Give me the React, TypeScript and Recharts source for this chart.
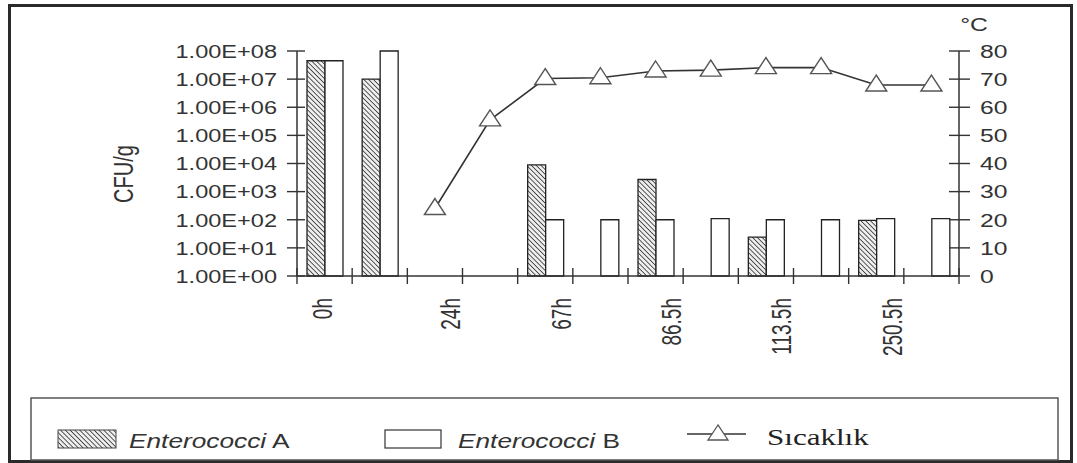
import React from 'react';
import { ComposedChart, Bar, Line, XAxis, YAxis } from 'recharts';

const timeLabels = ['0h', '', '24h', '', '67h', '', '86.5h', '', '113.5h', '', '250.5h', ''];
const enterococciA = [4.5e7, 1e7, null, null, 8.9e3, null, 2.7e3, null, 24, null, 95, null];
const enterococciB = [4.5e7, 1e8, null, null, 100, 100, 100, 110, 100, 100, 110, 110];
const sicaklik = [null, null, 24, 55.5, 70.2, 70.5, 72.9, 73.2, 74.1, 74.1, 67.9, 67.9];
const cfuTicks = [1, 10, 100, 1e3, 1e4, 1e5, 1e6, 1e7, 1e8];
const tempTicks = [0, 10, 20, 30, 40, 50, 60, 70, 80];

const data = timeLabels.map((t, i) => ({
  time: t,
  A: enterococciA[i],
  B: enterococciB[i],
  T: sicaklik[i],
}));

const W = 1077;
const H = 463;
const PLOT_L = 297;
const PLOT_R = 959;
const PLOT_T = 51;
const PLOT_B = 276;
const BAND = (PLOT_R - PLOT_L) / timeLabels.length;
const INK = '#333';
const SANS = '"Liberation Sans", Arial, sans-serif';
const SERIF = '"Liberation Serif", "Times New Roman", serif';

const fmtE = (v: number) => '1.00E+' + String(Math.round(Math.log10(v))).padStart(2, '0');

const LeftTick = (props: any) => {
  const { y, payload } = props;
  return (
    <g>
      <line x1={PLOT_L - 10} x2={PLOT_L + 8} y1={y} y2={y} stroke={INK} strokeWidth={1.4} />
      <g transform={`translate(${PLOT_L - 20},${y}) scale(1.24,1)`}>
        <text x={0} y={0} dy="0.36em" textAnchor="end" fontFamily={SANS} fontSize={19} fill={INK}>
          {fmtE(payload.value)}
        </text>
      </g>
    </g>
  );
};

const RightTick = (props: any) => {
  const { y, payload } = props;
  return (
    <g>
      <line x1={PLOT_R - 10} x2={PLOT_R + 11} y1={y} y2={y} stroke={INK} strokeWidth={1.4} />
      <g transform={`translate(${PLOT_R + 21},${y}) scale(1.3,1)`}>
        <text x={0} y={0} dy="0.36em" textAnchor="start" fontFamily={SANS} fontSize={19} fill={INK}>
          {payload.value}
        </text>
      </g>
    </g>
  );
};

const XTick = (props: any) => {
  const { x, payload, index } = props;
  const left = x - BAND / 2;
  const isLast = index === timeLabels.length - 1;
  const dx = index === 0 ? -3 : 15;
  const label = payload.value as string;
  return (
    <g>
      <line x1={left} x2={left} y1={PLOT_B - 8} y2={PLOT_B + 8} stroke={INK} strokeWidth={1.4} />
      {isLast && (
        <line x1={left + BAND} x2={left + BAND} y1={PLOT_B - 8} y2={PLOT_B + 8} stroke={INK} strokeWidth={1.4} />
      )}
      {label && (
        <g transform={`translate(${x + dx},${PLOT_B + 22}) scale(1.5,1) rotate(-90)`}>
          <text x={0} y={0} dy="0.36em" textAnchor="end" fontFamily={SANS} fontSize={19} fill={INK}>
            {label}
          </text>
        </g>
      )}
    </g>
  );
};

const TriDot = (props: any) => {
  const { cx, cy, index } = props;
  if (cx == null || cy == null || isNaN(cy)) return <g key={`d${index}`} />;
  const pts = `${cx},${cy - 10} ${cx - 10.5},${cy + 6} ${cx + 10.5},${cy + 6}`;
  return <polygon key={`d${index}`} points={pts} fill="#fff" stroke="#555" strokeWidth={1.4} />;
};

const Hatch = ({ id }: { id: string }) => (
  <pattern id={id} patternUnits="userSpaceOnUse" width={3.4} height={3.4} patternTransform="rotate(-45)">
    <rect x={0} y={0} width={3.4} height={3.4} fill="#eeeeee" />
    <line x1={0} y1={0} x2={0} y2={3.4} stroke="#333" strokeWidth={1.6} />
  </pattern>
);

export default function App() {
  return (
    <div style={{ position: 'absolute', left: 0, top: 0, width: W, height: H, background: '#fff' }}>
      <ComposedChart
        width={W}
        height={H}
        data={data}
        margin={{ top: PLOT_T, right: 0, bottom: 0, left: 0 }}
        barGap={0}
        style={{ position: 'absolute', left: 0, top: 0 }}
      >
        <defs>
          <Hatch id="hatchA" />
        </defs>
        <XAxis
          dataKey="time"
          type="category"
          interval={0}
          height={H - PLOT_B}
          axisLine={{ stroke: INK, strokeWidth: 1.5 }}
          tickLine={false}
          tick={(p: any) => <XTick {...p} />}
        />
        <YAxis
          yAxisId="left"
          orientation="left"
          width={PLOT_L}
          scale="log"
          type="number"
          domain={[1, 1e8]}
          ticks={cfuTicks}
          interval={0}
          axisLine={{ stroke: INK, strokeWidth: 1.5 }}
          tickLine={false}
          tick={(p: any) => <LeftTick {...p} />}
        />
        <YAxis
          yAxisId="right"
          orientation="right"
          width={W - PLOT_R}
          type="number"
          domain={[0, 80]}
          ticks={tempTicks}
          interval={0}
          axisLine={{ stroke: INK, strokeWidth: 1.5 }}
          tickLine={false}
          tick={(p: any) => <RightTick {...p} />}
        />
        <Bar
          yAxisId="left"
          dataKey="A"
          name="Enterococci A"
          fill="url(#hatchA)"
          stroke="#222"
          strokeWidth={1.3}
          barSize={18}
          isAnimationActive={false}
        />
        <Bar
          yAxisId="left"
          dataKey="B"
          name="Enterococci B"
          fill="#fff"
          stroke="#222"
          strokeWidth={1.3}
          barSize={18}
          isAnimationActive={false}
        />
        <Line
          yAxisId="right"
          dataKey="T"
          name="Sıcaklık"
          type="linear"
          stroke="#333"
          strokeWidth={1.6}
          dot={(p: any) => <TriDot {...p} />}
          activeDot={false}
          isAnimationActive={false}
        />
      </ComposedChart>
      <svg
        width={W}
        height={H}
        style={{ position: 'absolute', left: 0, top: 0, pointerEvents: 'none' }}
      >
        <defs>
          <Hatch id="hatchL" />
        </defs>
        <rect x={9.5} y={5.5} width={1062} height={456} fill="none" stroke="#2a2a2a" strokeWidth={3} />
        <rect x={31} y={398} width={1027} height={62} fill="none" stroke="#555" strokeWidth={1.5} />
        <g transform="translate(123,174) scale(1.4,1) rotate(-90)">
          <text x={0} y={0} dy="0.36em" textAnchor="middle" fontFamily={SANS} fontSize={20} fill={INK}>
            CFU/g
          </text>
        </g>
        <g transform="translate(974,24) scale(1.3,1)">
          <text x={0} y={0} dy="0.36em" textAnchor="middle" fontFamily={SANS} fontSize={19} fill={INK}>
            °C
          </text>
        </g>
        <rect x={58} y={430} width={58} height={18} fill="url(#hatchL)" stroke="#444" strokeWidth={1} />
        <g transform="translate(129,448) scale(1.25,1)">
          <text x={0} y={0} fontFamily={SANS} fontSize={21} fill={INK}>
            <tspan fontStyle="italic">Enterococci</tspan> A
          </text>
        </g>
        <rect x={385} y={430} width={56} height={18} fill="#fff" stroke="#333" strokeWidth={1.2} />
        <g transform="translate(458,448) scale(1.25,1)">
          <text x={0} y={0} fontFamily={SANS} fontSize={21} fill={INK}>
            <tspan fontStyle="italic">Enterococci</tspan> B
          </text>
        </g>
        <line x1={687} x2={746} y1={434} y2={434} stroke="#333" strokeWidth={1.5} />
        <polygon points="718,425 708,440 728,440" fill="#fff" stroke="#555" strokeWidth={1.3} />
        <g transform="translate(767,445) scale(1.35,1)">
          <text x={0} y={0} fontFamily={SERIF} fontSize={23} fill="#222">
            Sıcaklık
          </text>
        </g>
      </svg>
    </div>
  );
}
